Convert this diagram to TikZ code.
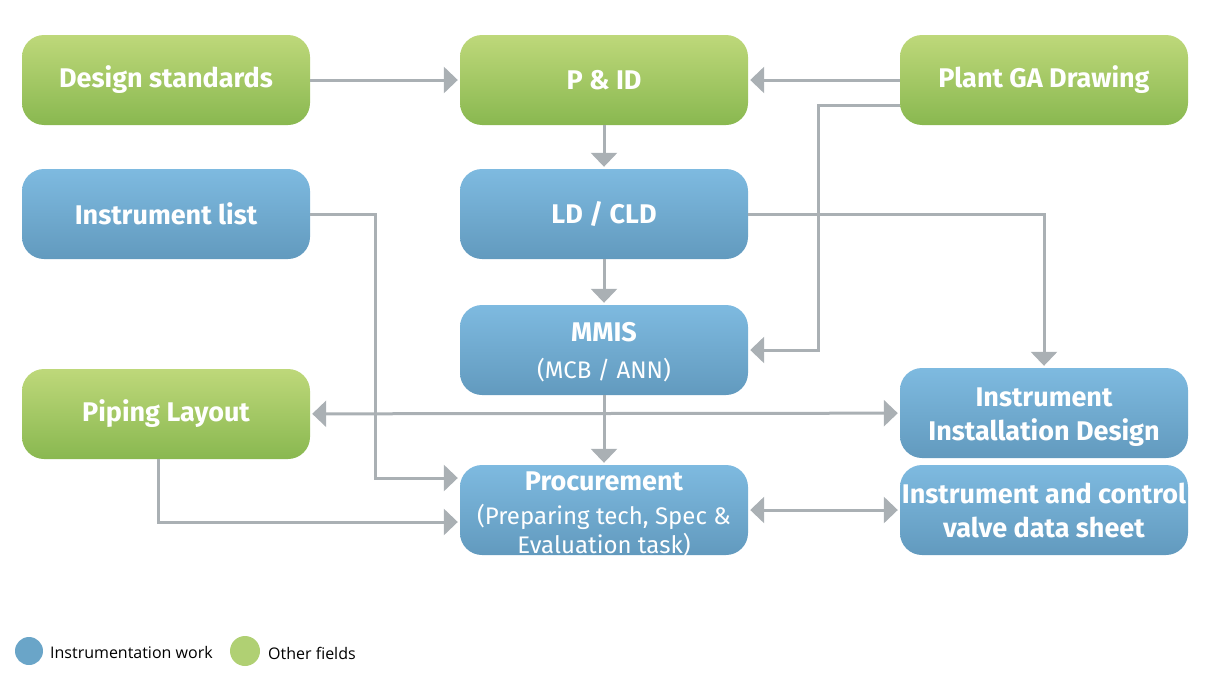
\documentclass[tikz,border=0pt]{standalone}
\usepackage{fontspec}
\setmainfont{Fira Sans}
\newfontfamily\legendfont{Open Sans}
\usetikzlibrary{arrows.meta,calc}

\definecolor{grntop}{RGB}{190,216,122}
\definecolor{grnbot}{RGB}{137,184,80}
\definecolor{blutop}{RGB}{126,186,224}
\definecolor{blubot}{RGB}{98,154,190}
\definecolor{linegray}{RGB}{170,176,180}
\definecolor{dotblue}{RGB}{106,165,200}
\definecolor{dotgreen}{RGB}{176,208,115}

\begin{document}
\begin{tikzpicture}[x=1pt, y=-1pt,
    box/.style={rounded corners=22pt, minimum width=288pt, minimum height=90pt, inner sep=0pt,
        text=white, align=center, font=\fontsize{27}{34}\selectfont\bfseries},
    other/.style={box, top color=grntop, bottom color=grnbot},
    instr/.style={box, top color=blutop, bottom color=blubot},
    arr/.style={draw=linegray, line width=3pt,
        -{Triangle[length=14pt, width=26pt]}, shorten >=2pt},
    twoway/.style={arr, {Triangle[length=14pt, width=26pt]}-{Triangle[length=14pt, width=26pt]}, shorten <=2pt}]

    \useasboundingbox (0,0) rectangle (1206,688);

    \node[other] (DS) at (166, 80) {Design standards};
    \node[other] (PID) at (604, 80) {P \& ID};
    \node[other] (GA) at (1044, 80) {Plant GA Drawing};
    \node[instr] (IL) at (166, 214) {Instrument list};
    \node[instr] (LD) at (604, 214) {LD / CLD};
    \node[instr] (MMIS) at (604, 350) {\rule{0pt}{24pt}MMIS\\[3pt]{\fontsize{24}{28}\selectfont\mdseries (MCB / ANN)}};
    \node[other] (PL) at (166, 414) {Piping Layout};
    \node[instr] (IID) at (1044, 413) {\rule{0pt}{26pt}Instrument\\Installation Design};
    \node[instr, inner ysep=-8pt] (PROC) at (604, 510) {\rule{0pt}{28pt}Procurement\\{\fontsize{24}{34}\selectfont\mdseries (Preparing tech, Spec \&}\\[-5pt]{\fontsize{24}{28}\selectfont\mdseries Evaluation task)}};
    \node[instr] (IDS) at (1044, 510) {Instrument and control\\valve data sheet};

    \coordinate (G1) at (818, 105);
    \coordinate (I1) at (375, 478);

    \draw[arr] (DS) -- (PID);
    \draw[arr] (GA) -- (PID);
    \draw[arr] (PID) -- (LD);
    \draw[arr] (LD) -- (MMIS);
    \draw[arr] (MMIS) -- (PROC);
    \draw[arr] ($(GA.west)+(0,25)$) -- (G1) |- (MMIS.east);
    \draw[arr] (LD.east) -| (IID.north);
    \draw[arr] (IL.east) -| (I1) -- (I1 -| PROC.west);
    \draw[arr] ($(PL.south)+(-8,0)$) |- ($(PROC.west)+(0,12)$);
    \draw[twoway] (PL) -- (IID);
    \draw[twoway] (PROC) -- (IDS);

    % legend
    \fill[dotblue] (29, 651) circle (14);
    \node[anchor=west, inner sep=0pt, font=\legendfont\fontsize{16}{18}\selectfont] (LB) at (50, 652) {Instrumentation work};
    \fill[dotgreen] (245, 651) circle (15);
    \node[anchor=west, inner sep=0pt, font=\legendfont\fontsize{16}{18}\selectfont] (LG) at (268, 653) {Other fields};
\end{tikzpicture}
\end{document}
